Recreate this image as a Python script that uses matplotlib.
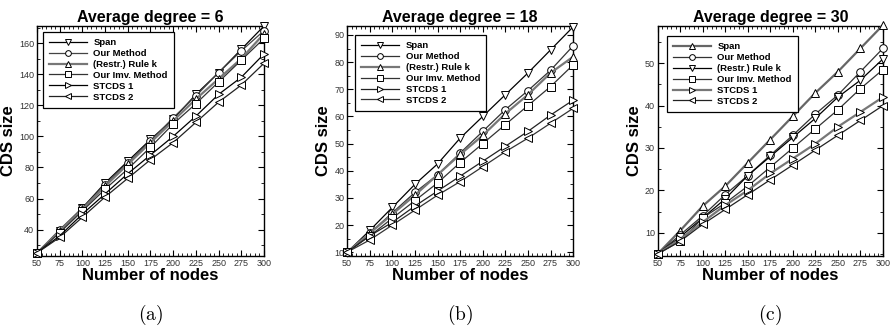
import matplotlib
matplotlib.use("Agg")
import matplotlib.pyplot as plt
from matplotlib.ticker import MultipleLocator

plt.rcParams['font.family'] = ['Liberation Sans', 'DejaVu Sans']
plt.rcParams['mathtext.fontset'] = 'cm'

# ----- Dados -----
nodes = [50, 75, 100, 125, 150, 175, 200, 225, 250, 275, 300]
labels = ['Span', 'Our Method', '(Restr.) Rule k', 'Our Imv. Method', 'STCDS 1', 'STCDS 2']

deg6_span   = [25, 39, 54, 70, 84, 98, 111, 127, 141, 156, 171]
deg6_our    = [25, 40, 54, 69, 83, 97, 112, 126, 141, 155, 168]
deg6_rule   = [25, 39, 53, 68, 82, 96, 110, 124, 137, 150, 166]
deg6_imv    = [25, 38, 52, 66, 79, 93, 108, 121, 135, 149, 163]
deg6_st1    = [25, 36, 50, 63, 76, 88, 100, 113, 127, 138, 153]
deg6_st2    = [25, 35, 48, 61, 73, 85, 96, 109, 122, 133, 147]

deg18_span  = [10, 18, 26.5, 35, 42.5, 52, 60, 68, 76, 84.5, 93]
deg18_our   = [10, 17, 24.5, 32, 38.5, 46.5, 54.5, 62.5, 69.5, 77, 86]
deg18_rule  = [10, 17, 24, 31, 38.5, 46, 53, 61, 68, 76, 82]
deg18_imv   = [10, 16, 22.5, 29, 35.5, 43, 50, 57, 64, 71, 79]
deg18_st1   = [10, 16, 21, 27, 32.5, 38, 43.5, 49, 54.5, 60.5, 66]
deg18_st2   = [10, 14.5, 20, 25.5, 31, 36, 41.5, 47, 52, 57.5, 63]

deg30_span  = [5, 10.5, 16.3, 21, 26.5, 32, 37.5, 43, 48, 53.5, 59]
deg30_our   = [5, 9.5, 14, 19, 23.5, 28.3, 33, 38, 42.5, 48, 53.5]
deg30_rule  = [5, 9, 13.5, 18, 23.5, 28, 32.5, 37, 42, 46, 51]
deg30_imv   = [5, 8, 13.5, 17, 21, 25.5, 30, 34.5, 39, 44, 48.5]
deg30_st1   = [5, 8.5, 12.5, 16.5, 20, 24, 27.5, 31, 35, 38.5, 42]
deg30_st2   = [5, 8, 12, 15.5, 19, 22.5, 26, 29.5, 33, 36.5, 40]

paineis = [
    ('Average degree = 6', '(a)',
     [deg6_span, deg6_our, deg6_rule, deg6_imv, deg6_st1, deg6_st2],
     ['v', 'o', '^', 's', '>', '<'],
     ['black', '#444444', '#777777', '#333333', 'black', '#222222'],
     (23, 171), 20, 10, [0.0416, 0.255], (0.026, 0.974)),
    ('Average degree = 18', '(b)',
     [deg18_span, deg18_our, deg18_rule, deg18_imv, deg18_st1, deg18_st2],
     ['v', 'o', '^', 's', '>', '<'],
     ['black', '#333333', '#777777', '#333333', '#222222', '#333333'],
     (8.6, 93.3), 10, 5, [0.39, 0.254], (0.035, 0.96)),
    ('Average degree = 30', '(c)',
     [deg30_span, deg30_our, deg30_rule, deg30_imv, deg30_st1, deg30_st2],
     ['^', 'o', 'v', 's', '>', '<'],
     ['#666666', '#333333', 'black', '#333333', '#777777', '#222222'],
     (4.5, 58.8), 10, 5, [0.739, 0.253], (0.04, 0.956)),
]

fig = plt.figure(figsize=(8.9, 3.3), dpi=100)

for titulo, sub, series, marcadores, cores, ylim, ymaj, ymin, pos, leg_pos in paineis:
    ax = fig.add_axes([pos[0], 0.2242, pos[1], 0.697])
    for vals, lab, mk, cor in zip(series, labels, marcadores, cores):
        lw = 1.6 if cor in ('#777777', '#666666') else 0.9
        ax.plot(nodes, vals, color=cor, lw=lw, marker=mk, ms=5.5,
                mfc='white', mec='black', mew=0.7, label=lab,
                clip_on=False, zorder=3)
    ax.set_xlim(50, 300)
    ax.set_ylim(*ylim)
    ax.xaxis.set_major_locator(MultipleLocator(25))
    ax.xaxis.set_minor_locator(MultipleLocator(5))
    ax.yaxis.set_major_locator(MultipleLocator(ymaj))
    ax.yaxis.set_minor_locator(MultipleLocator(ymin))
    ax.tick_params(which='both', direction='in', top=True, right=True,
                   labelsize=6.5, labelcolor='#333333', pad=2)
    ax.tick_params(which='major', length=4, width=0.8)
    ax.tick_params(which='minor', length=2, width=0.6)
    for s in ax.spines.values():
        s.set_linewidth(1.0)
    ax.set_title(titulo, fontsize=11.5, fontweight='bold', pad=3)
    ax.set_xlabel('Number of nodes', fontsize=12, fontweight='bold', labelpad=0)
    ax.set_ylabel('CDS size', fontsize=12, fontweight='bold', labelpad=2)
    leg = ax.legend(loc='upper left', bbox_to_anchor=leg_pos, borderaxespad=0,
                    prop={'weight': 'bold', 'size': 6.8}, markerscale=0.75,
                    handlelength=4.0, handletextpad=0.7, labelspacing=0.2,
                    fancybox=False, framealpha=1, edgecolor='black',
                    borderpad=0.65)
    leg.get_frame().set_linewidth(0.9)
    fig.text(pos[0] + pos[1] / 2, 0.045, r'$\mathrm{' + sub + '}$',
             ha='center', va='center', fontsize=14)

plt.savefig("out.png", dpi=100)
